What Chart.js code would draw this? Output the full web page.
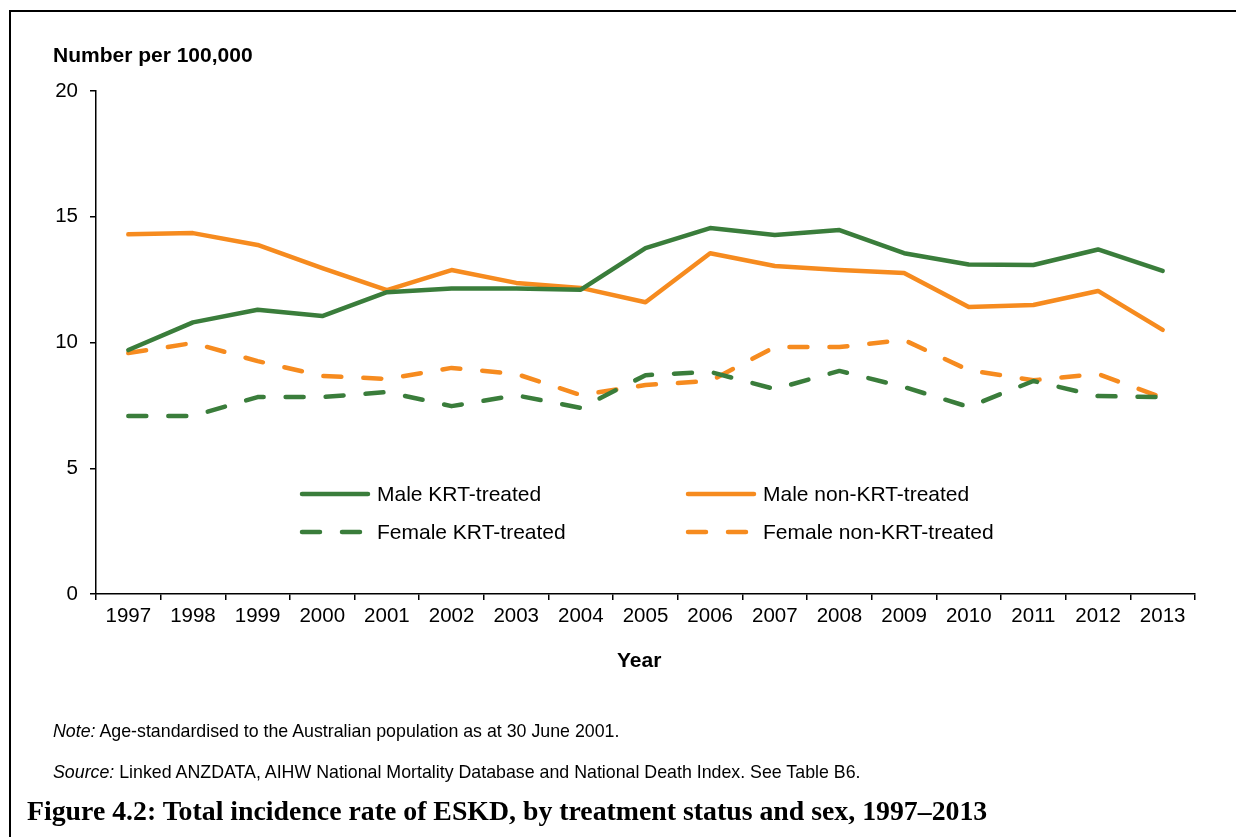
<!DOCTYPE html>
<html>
<head>
<meta charset="utf-8">
<script src="https://cdn.jsdelivr.net/npm/chart.js@4.4.1/dist/chart.umd.min.js"></script>
<style>
  body { margin: 0; background: #fff; }
  #wrap { position: relative; width: 1236px; height: 837px; overflow: hidden; font-family: "Liberation Sans", Arial, sans-serif; }
  #chart { position: absolute; left: 0; top: 0; }
  .frameTop { position: absolute; left: 9px; top: 10px; width: 1227px; height: 2px; background: #000; }
  .frameLeft { position: absolute; left: 9px; top: 10px; width: 2px; height: 827px; background: #000; }
  .txt { position: absolute; white-space: nowrap; color: #000; }
</style>
</head>
<body>
<div id="wrap">
  <canvas id="chart" width="1236" height="837"></canvas>
  <div class="frameTop"></div>
  <div class="frameLeft"></div>
  <div class="txt" style="left:53px; top:43px; font-size:21px; font-weight:bold;">Number per 100,000</div>
  <div class="txt" style="left:617px; top:648px; font-size:21px; font-weight:bold;">Year</div>
  <div class="txt" style="left:53px; top:721px; font-size:17.8px;"><i>Note:</i> Age-standardised to the Australian population as at 30 June 2001.</div>
  <div class="txt" style="left:53px; top:762px; font-size:17.8px;"><i>Source:</i> Linked ANZDATA, AIHW National Mortality Database and National Death Index. See Table B6.</div>
  <div class="txt" style="left:27px; top:795px; font-size:27.8px; font-weight:bold; font-family:'Liberation Serif', serif;">Figure 4.2: Total incidence rate of ESKD, by treatment status and sex, 1997–2013</div>
</div>
<script>
// Years along the x axis
const years = ['1997', '1998', '1999', '2000', '2001', '2002', '2003', '2004', '2005',
               '2006', '2007', '2008', '2009', '2010', '2011', '2012', '2013'];

// Rates per 100,000
const maleKRT     = [9.7, 10.8, 11.3, 11.05, 12.0, 12.15, 12.15, 12.1, 13.75, 14.55, 14.27, 14.47, 13.55, 13.1, 13.08, 13.7, 12.85];
const maleNonKRT  = [14.3, 14.35, 13.88, 12.96, 12.08, 12.88, 12.37, 12.17, 11.6, 13.55, 13.04, 12.88, 12.76, 11.41, 11.49, 12.05, 10.5];
const femaleKRT   = [7.08, 7.08, 7.83, 7.83, 8.03, 7.47, 7.9, 7.4, 8.7, 8.83, 8.15, 8.87, 8.23, 7.44, 8.47, 7.87, 7.83];
const femaleNonKRT = [9.58, 9.98, 9.26, 8.67, 8.55, 8.99, 8.75, 7.91, 8.31, 8.47, 9.82, 9.82, 10.1, 8.9, 8.5, 8.75, 7.8];

const yTicks = [0, 5, 10, 15, 20];

const green = '#3a7d3b';
const orange = '#f68b1f';
const dash = [18, 22];

function series(label, data, color, dashed) {
    return {
        label: label,
        data: data,
        borderColor: color,
        backgroundColor: color,
        borderWidth: 4.5,
        borderDash: dashed ? dash : [],
        borderCapStyle: 'round',
        borderJoinStyle: 'round',
        pointRadius: 0,
        tension: 0,
        fill: false
    };
}

// Legend drawn inside the plot, two columns by two rows
const innerLegend = {
    id: 'innerLegend',
    afterDraw(chart) {
        const ctx = chart.ctx;
        const cols = [300, 686];
        const rows = [494, 532];
        chart.data.datasets.forEach((ds, i) => {
            const x = cols[i % 2];
            const y = rows[Math.floor(i / 2)];
            ctx.save();
            ctx.strokeStyle = ds.borderColor;
            ctx.lineWidth = ds.borderWidth;
            ctx.lineCap = 'round';
            ctx.setLineDash(ds.borderDash);
            ctx.beginPath();
            ctx.moveTo(x + 2, y);
            ctx.lineTo(x + 68, y);
            ctx.stroke();
            ctx.setLineDash([]);
            ctx.fillStyle = '#000';
            ctx.font = '21px "Liberation Sans", Arial, sans-serif';
            ctx.textBaseline = 'middle';
            ctx.fillText(ds.label, x + 77, y + 1);
            ctx.restore();
        });
    }
};

const ctx = document.getElementById('chart').getContext('2d');
new Chart(ctx, {
    type: 'line',
    data: {
        labels: years,
        datasets: [
            series('Male KRT-treated', maleKRT, green, false),
            series('Male non-KRT-treated', maleNonKRT, orange, false),
            series('Female KRT-treated', femaleKRT, green, true),
            series('Female non-KRT-treated', femaleNonKRT, orange, true)
        ]
    },
    options: {
        responsive: false,
        animation: false,
        layout: { padding: { left: 0, top: 91, right: 41, bottom: 0 } },
        plugins: {
            legend: { display: false },
            tooltip: { enabled: false }
        },
        scales: {
            x: {
                offset: true,
                grid: { display: true, offset: true, drawOnChartArea: false, drawTicks: true, tickLength: 6, color: '#000', lineWidth: 1.5 },
                border: { display: true, color: '#000', width: 1.5 },
                ticks: { color: '#000', font: { size: 20.5, family: '"Liberation Sans", Arial, sans-serif' }, padding: 4, maxRotation: 0, autoSkip: false },
                afterFit(scale) { scale.height = 243; }
            },
            y: {
                min: 0,
                max: 20,
                afterBuildTicks(scale) { scale.ticks = yTicks.map(v => ({ value: v })); },
                grid: { display: true, drawOnChartArea: false, drawTicks: true, tickLength: 6, color: '#000', lineWidth: 1.5 },
                border: { display: true, color: '#000', width: 1.5 },
                ticks: { color: '#000', font: { size: 20.5, family: '"Liberation Sans", Arial, sans-serif' }, padding: 12 },
                afterFit(scale) { scale.width = 96; }
            }
        }
    },
    plugins: [innerLegend]
});
</script>
</body>
</html>
